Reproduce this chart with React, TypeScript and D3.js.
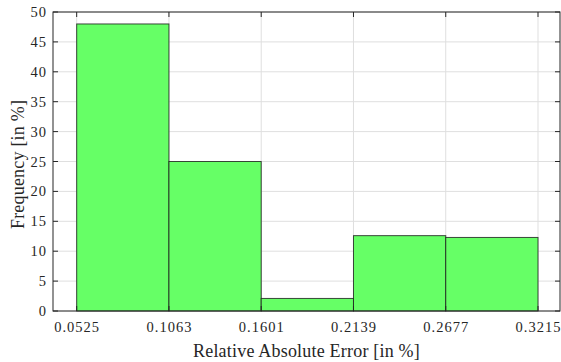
// @ts-nocheck
import React, { useEffect, useRef } from 'react'
import * as d3 from 'd3'

const binEdges = [0.0525, 0.1063, 0.1601, 0.2139, 0.2677, 0.3215]
const frequencies = [48, 25, 2.1, 12.6, 12.3]
const yTicks = [0, 5, 10, 15, 20, 25, 30, 35, 40, 45, 50]

const App = () => {
    const ref = useRef(null)

    useEffect(() => {
        const width = 561,
            height = 362,
            left = 53,
            right = 560,
            top = 12,
            bottom = 311

        // pixel -> value padding like MATLAB's auto limits
        const step = binEdges[1] - binEdges[0]
        const x = d3.scaleLinear([binEdges[0] - step * 0.2567, binEdges[5] + step * 0.2383], [left, right])
        const y = d3.scaleLinear([0, 50], [bottom, top])

        const svg = d3.select(ref.current)
            .attr('width', width)
            .attr('height', height)
        svg.selectAll('*').remove()

        const font = '"Liberation Serif", "Times New Roman", serif'
        const axisColor = '#262626'

        // grid
        svg.append('g')
            .selectAll('line.gy')
            .data(yTicks)
            .join('line')
            .attr('x1', left).attr('x2', right)
            .attr('y1', d => y(d)).attr('y2', d => y(d))
            .attr('stroke', '#dfdfdf').attr('stroke-width', 1)
        svg.append('g')
            .selectAll('line.gx')
            .data(binEdges)
            .join('line')
            .attr('x1', d => x(d)).attr('x2', d => x(d))
            .attr('y1', top).attr('y2', bottom)
            .attr('stroke', '#dfdfdf').attr('stroke-width', 1)

        // bars
        svg.append('g')
            .selectAll('rect')
            .data(frequencies)
            .join('rect')
            .attr('x', (d, i) => x(binEdges[i]))
            .attr('width', (d, i) => x(binEdges[i + 1]) - x(binEdges[i]))
            .attr('y', d => y(d))
            .attr('height', d => y(0) - y(d))
            .attr('fill', '#66ff66')
            .attr('stroke', '#1a1a1a')
            .attr('stroke-opacity', 0.8)
            .attr('stroke-width', 1)

        // box
        svg.append('rect')
            .attr('x', left).attr('y', top)
            .attr('width', right - left).attr('height', bottom - top)
            .attr('fill', 'none').attr('stroke', axisColor).attr('stroke-width', 1)

        // inward ticks, all four sides
        const tl = 5
        const tk = svg.append('g').attr('stroke', axisColor).attr('stroke-width', 1)
        binEdges.forEach(v => {
            tk.append('line').attr('x1', x(v)).attr('x2', x(v)).attr('y1', bottom).attr('y2', bottom - tl)
            tk.append('line').attr('x1', x(v)).attr('x2', x(v)).attr('y1', top).attr('y2', top + tl)
        })
        yTicks.forEach(v => {
            tk.append('line').attr('x1', left).attr('x2', left + tl).attr('y1', y(v)).attr('y2', y(v))
            tk.append('line').attr('x1', right).attr('x2', right - tl).attr('y1', y(v)).attr('y2', y(v))
        })

        // tick labels
        svg.append('g')
            .selectAll('text')
            .data(binEdges)
            .join('text')
            .attr('x', d => x(d) + 0.5)
            .attr('y', 332)
            .attr('text-anchor', 'middle')
            .attr('font-family', font)
            .attr('font-size', 14.5)
            .attr('letter-spacing', 1)
            .attr('fill', axisColor)
            .text(d => d.toFixed(4))

        svg.append('g')
            .selectAll('text')
            .data(yTicks)
            .join('text')
            .attr('x', left - 6)
            .attr('y', d => y(d) + 5)
            .attr('text-anchor', 'end')
            .attr('font-family', font)
            .attr('font-size', 14.5)
            .attr('letter-spacing', 1)
            .attr('fill', axisColor)
            .text(d => d)

        // axis labels
        svg.append('text')
            .attr('x', (left + right) / 2)
            .attr('y', 357)
            .attr('text-anchor', 'middle')
            .attr('font-family', font)
            .attr('font-size', 18)
            .attr('letter-spacing', 0.2)
            .attr('fill', axisColor)
            .text('Relative Absolute Error [in %]')

        svg.append('text')
            .attr('transform', `translate(24, ${(top + bottom) / 2 + 3}) rotate(-90)`)
            .attr('text-anchor', 'middle')
            .attr('font-family', font)
            .attr('font-size', 18)
            .attr('letter-spacing', 0.2)
            .attr('fill', axisColor)
            .text('Frequency [in %]')
    }, [])

    return <svg ref={ref} width='561' height='362' style={{ position: 'absolute', left: 0, top: 0, background: '#fff' }}></svg>
}

export default App
